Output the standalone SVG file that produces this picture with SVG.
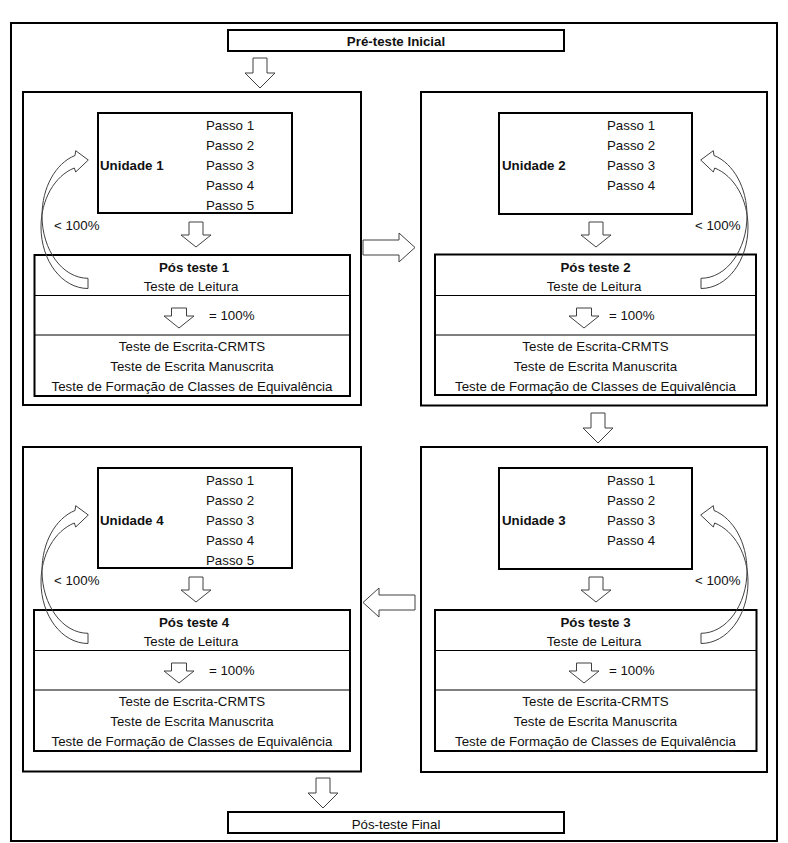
<svg xmlns="http://www.w3.org/2000/svg" width="788" height="843" viewBox="0 0 788 843">
<style>
.box{fill:none;stroke:#000;stroke-width:2}
.frame{fill:none;stroke:#000;stroke-width:2}
.div{stroke:#000;stroke-width:1}
.blk{fill:#fff;stroke:#404040;stroke-width:1}
.crv{fill:none;stroke:#404040;stroke-width:1}
.t{font-family:"Liberation Sans",Arial,sans-serif;font-size:13.3px;fill:#111}
.b{font-weight:bold}
.c{text-anchor:middle}
</style>
<defs>
<path id="curve" d="M88,288.5 C62.04,288.5 41,260.93 41,226.91 C41,199.81 54.52,175.9 74.3,168 L75.7,172 L88.3,160 L75.7,150.7 L75,155.5 C55.43,163.35 42,187.82 42,215.62 C42,250.24 62.59,278.3 88,278.3 Z"/>
</defs>
<rect x="0" y="0" width="788" height="843" fill="#fff"/>
<rect class="frame" x="11" y="23" width="766" height="818"/>

<g id="pre-teste">
<rect class="box" x="228" y="30" width="336" height="21"/>
<text class="t b c" x="396" y="46">Pré-teste Inicial</text>
</g>

<g id="unidade1">
<rect class="box" x="23" y="92" width="338" height="313"/>
<rect class="box" x="98" y="113" width="194" height="100"/>
<text class="t b" x="100" y="169.5">Unidade 1</text>
<text class="t" x="206" y="129.5">Passo 1</text>
<text class="t" x="206" y="149.5">Passo 2</text>
<text class="t" x="206" y="169.5">Passo 3</text>
<text class="t" x="206" y="189.5">Passo 4</text>
<text class="t" x="206" y="209.5">Passo 5</text>
<rect class="box" x="34.5" y="255" width="315.5" height="141"/>
<line class="div" x1="34.5" y1="295.5" x2="350" y2="295.5"/>
<line class="div" x1="34.5" y1="335" x2="350" y2="335"/>
<text class="t b c" x="194" y="271.5">Pós teste 1</text>
<text class="t c" x="191" y="291">Teste de Leitura</text>
<text class="t" x="209" y="319.5">= 100%</text>
<text class="t c" x="192" y="351">Teste de Escrita-CRMTS</text>
<text class="t c" x="192" y="371">Teste de Escrita Manuscrita</text>
<text class="t c" x="192" y="391">Teste de Formação de Classes de Equivalência</text>
<text class="t" x="54" y="230">&lt; 100%</text>
</g>

<g id="unidade2">
<rect class="box" x="421" y="92" width="346" height="313.5"/>
<rect class="box" x="499" y="113" width="193" height="101"/>
<text class="t b" x="502" y="169.5">Unidade 2</text>
<text class="t" x="607" y="129.5">Passo 1</text>
<text class="t" x="607" y="149.5">Passo 2</text>
<text class="t" x="607" y="169.5">Passo 3</text>
<text class="t" x="607" y="189.5">Passo 4</text>
<rect class="box" x="435" y="254.5" width="321" height="140.5"/>
<line class="div" x1="435" y1="295.5" x2="756" y2="295.5"/>
<line class="div" x1="435" y1="335" x2="756" y2="335"/>
<text class="t b c" x="595.5" y="271.5">Pós teste 2</text>
<text class="t c" x="594" y="291">Teste de Leitura</text>
<text class="t" x="609" y="319.5">= 100%</text>
<text class="t c" x="595.5" y="351">Teste de Escrita-CRMTS</text>
<text class="t c" x="595.5" y="371">Teste de Escrita Manuscrita</text>
<text class="t c" x="595.5" y="391">Teste de Formação de Classes de Equivalência</text>
<text class="t" x="695" y="230">&lt; 100%</text>
</g>

<g id="unidade3">
<rect class="box" x="421" y="447" width="346" height="325"/>
<rect class="box" x="499" y="468" width="193" height="101"/>
<text class="t b" x="502" y="524.5">Unidade 3</text>
<text class="t" x="607" y="484.5">Passo 1</text>
<text class="t" x="607" y="504.5">Passo 2</text>
<text class="t" x="607" y="524.5">Passo 3</text>
<text class="t" x="607" y="544.5">Passo 4</text>
<rect class="box" x="435" y="610" width="321.5" height="141"/>
<line class="div" x1="435" y1="650.5" x2="756.5" y2="650.5"/>
<line class="div" x1="435" y1="690" x2="756.5" y2="690"/>
<text class="t b c" x="595.5" y="626.5">Pós teste 3</text>
<text class="t c" x="594" y="646">Teste de Leitura</text>
<text class="t" x="609" y="674.5">= 100%</text>
<text class="t c" x="595.5" y="706">Teste de Escrita-CRMTS</text>
<text class="t c" x="595.5" y="726">Teste de Escrita Manuscrita</text>
<text class="t c" x="595.5" y="746">Teste de Formação de Classes de Equivalência</text>
<text class="t" x="695" y="585">&lt; 100%</text>
</g>

<g id="unidade4">
<rect class="box" x="23" y="447" width="338" height="324.5"/>
<rect class="box" x="98" y="468" width="194" height="100"/>
<text class="t b" x="100" y="524.5">Unidade 4</text>
<text class="t" x="206" y="484.5">Passo 1</text>
<text class="t" x="206" y="504.5">Passo 2</text>
<text class="t" x="206" y="524.5">Passo 3</text>
<text class="t" x="206" y="544.5">Passo 4</text>
<text class="t" x="206" y="564.5">Passo 5</text>
<rect class="box" x="34" y="610" width="316" height="141"/>
<line class="div" x1="34" y1="650.5" x2="350" y2="650.5"/>
<line class="div" x1="34" y1="690" x2="350" y2="690"/>
<text class="t b c" x="194" y="626.5">Pós teste 4</text>
<text class="t c" x="191" y="646">Teste de Leitura</text>
<text class="t" x="209" y="674.5">= 100%</text>
<text class="t c" x="192" y="706">Teste de Escrita-CRMTS</text>
<text class="t c" x="192" y="726">Teste de Escrita Manuscrita</text>
<text class="t c" x="192" y="746">Teste de Formação de Classes de Equivalência</text>
<text class="t" x="54" y="585">&lt; 100%</text>
</g>

<g id="pos-teste-final">
<rect class="box" x="228" y="812" width="336" height="21"/>
<text class="t c" x="396" y="828.5">Pós-teste Final</text>
</g>

<g id="connectors">
<polygon class="blk" points="253,58 267,58 267,73 275,73 260,88 245,73 253,73"/>
<polygon class="blk" points="189,222 203,222 203,235 211,235 196,247 181,235 189,235"/>
<polygon class="blk" points="589,222 603,222 603,235 611,235 596,247 581,235 589,235"/>
<polygon class="blk" points="189,577 203,577 203,590 211,590 196,602 181,590 189,590"/>
<polygon class="blk" points="589,577 603,577 603,590 611,590 596,602 581,590 589,590"/>
<polygon class="blk" points="171.5,308 186.5,308 186.5,316 194,316 179,328 164,316 171.5,316"/>
<polygon class="blk" points="576.5,308 591.5,308 591.5,316 599,316 584,328 569,316 576.5,316"/>
<polygon class="blk" points="171.5,663 186.5,663 186.5,671 194,671 179,683 164,671 171.5,671"/>
<polygon class="blk" points="576.5,663 591.5,663 591.5,671 599,671 584,683 569,671 576.5,671"/>
<polygon class="blk" points="591,413 605,413 605,428 613,428 598,443 583,428 591,428"/>
<polygon class="blk" points="316,778 330,778 330,793 338,793 323,808 308,793 316,793"/>
<polygon class="blk" points="363,240 399,240 399,233 415,247.5 399,262 399,255 363,255"/>
<polygon class="blk" points="415,595 379,595 379,588 363,602.5 379,617 379,610 415,610"/>
<use href="#curve" class="crv"/>
<use href="#curve" class="crv" transform="translate(0,355)"/>
<use href="#curve" class="crv" transform="translate(789,0) scale(-1,1)"/>
<use href="#curve" class="crv" transform="translate(789,355) scale(-1,1)"/>
</g>
</svg>
